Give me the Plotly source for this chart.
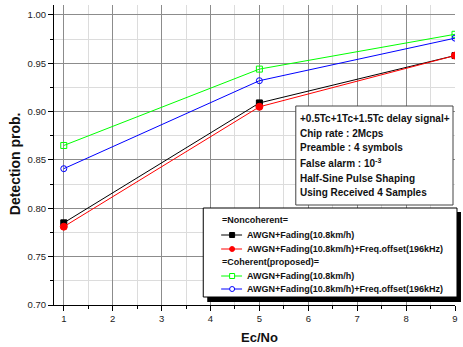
import plotly.graph_objects as go

# ---- data ----
ec_no = [1, 5, 9]
nc_awgn = [0.785, 0.909, 0.958]
nc_freq = [0.781, 0.905, 0.958]
co_awgn = [0.865, 0.944, 0.980]
co_freq = [0.841, 0.932, 0.976]

series_names = ["AWGN+Fading(10.8km/h)", "AWGN+Fading(10.8km/h)+Freq.offset(196kHz)",
                "AWGN+Fading(10.8km/h)", "AWGN+Fading(10.8km/h)+Freq.offset(196kHz)"]
group_titles = ["=Noncoherent=", "=Coherent(proposed)="]
info_lines = ["+0.5Tc+1Tc+1.5Tc delay signal+", "Chip rate : 2Mcps", "Preamble : 4 symbols",
              "False alarm : 10<sup>-3</sup>", "Half-Sine Pulse Shaping", "Using Received 4 Samples"]

FONT = "Arial, Liberation Sans, sans-serif"
colors = ["#000000", "#ff0000", "#00ff00", "#0000ff"]
symbols = ["square", "circle", "square-open", "circle-open"]
sizes = [6, 7, 6, 6]
values = [nc_awgn, nc_freq, co_awgn, co_freq]

fig = go.Figure()
for v, c, s, sz, n in zip(values, colors, symbols, sizes, series_names):
    fig.add_trace(go.Scatter(x=ec_no, y=v, mode="lines+markers", name=n,
                             line=dict(color=c, width=1),
                             marker=dict(symbol=s, size=sz, color=c, line=dict(color=c, width=1)),
                             showlegend=False))

# pixel helpers for layout decoration
L, R, T, B = 54, 457, 5, 305
W, H = R - L, B - T
def px(x):
    return (x - L) / W
def py(y):
    return (B - y) / H

shapes = []
annotations = []

# info text box
shapes.append(dict(type="rect", xref="paper", yref="paper", x0=px(297), x1=px(455), y0=py(205), y1=py(106),
                   line=dict(color="#444444", width=1), fillcolor="white", layer="above"))
info_y = [118, 133, 147.5, 163, 178, 192.7]
for t, yy in zip(info_lines, info_y):
    annotations.append(dict(text=t, xref="paper", yref="paper", x=px(299), y=py(yy), xanchor="left",
                            yanchor="middle", showarrow=False,
                            font=dict(family=FONT, size=10, color="#111111", weight="bold")))

# legend box with shadow
shapes.append(dict(type="rect", xref="paper", yref="paper", x0=px(208), x1=px(463), y0=py(302), y1=py(212),
                   line=dict(width=0), fillcolor="black", layer="above"))
shapes.append(dict(type="rect", xref="paper", yref="paper", x0=px(204), x1=px(459), y0=py(297), y1=py(208),
                   line=dict(color="black", width=1), fillcolor="white", layer="above"))
rows = [220, 235, 249, 262, 276, 289]
annotations.append(dict(text=group_titles[0], xref="paper", yref="paper", x=px(221), y=py(rows[0]),
                        xanchor="left", yanchor="middle", showarrow=False,
                        font=dict(family=FONT, size=9, color="#111111", weight="bold")))
annotations.append(dict(text=group_titles[1], xref="paper", yref="paper", x=px(221), y=py(rows[3]),
                        xanchor="left", yanchor="middle", showarrow=False,
                        font=dict(family=FONT, size=9, color="#111111", weight="bold")))
entry_rows = [rows[1], rows[2], rows[4], rows[5]]
for yy, c, s, n in zip(entry_rows, colors, symbols, series_names):
    shapes.append(dict(type="line", xref="paper", yref="paper", x0=px(222), x1=px(243), y0=py(yy), y1=py(yy),
                       line=dict(color=c, width=1), layer="above"))
    ms = 2.5
    shp = "rect" if "square" in s else "circle"
    fill = c if "open" not in s else "white"
    shapes.append(dict(type=shp, xref="paper", yref="paper", x0=px(233 - ms), x1=px(233 + ms),
                       y0=py(yy + ms), y1=py(yy - ms), line=dict(color=c, width=1), fillcolor=fill,
                       layer="above"))
    annotations.append(dict(text=n, xref="paper", yref="paper", x=px(246), y=py(yy), xanchor="left",
                            yanchor="middle", showarrow=False,
                            font=dict(family=FONT, size=9, color="#111111", weight="bold")))

# axis titles
annotations.append(dict(text="Ec/No", xref="paper", yref="paper", x=px(261), y=py(337), xanchor="center",
                        yanchor="middle", showarrow=False,
                        font=dict(family=FONT, size=13, color="#111111", weight="bold")))
annotations.append(dict(text="Detection prob.", xref="paper", yref="paper", x=px(15), y=py(164),
                        xanchor="center", yanchor="middle", showarrow=False, textangle=-90,
                        font=dict(family=FONT, size=14, color="#111111", weight="bold")))

axis_common = dict(showline=True, linecolor="black", linewidth=1, ticks="outside", tickcolor="black",
                   ticklen=5, gridcolor="#8c8c8c", gridwidth=1, zeroline=False,
                   tickfont=dict(family=FONT, size=9.5, color="#222222"))
fig.update_layout(
    width=463, height=347,
    margin=dict(l=L, r=463 - R, t=T, b=347 - B),
    paper_bgcolor="white", plot_bgcolor="white",
    xaxis=dict(range=[0.8, 9.0], dtick=1, tick0=1,
               minor=dict(dtick=0.5, tick0=1, showgrid=True, gridcolor="#dcdcdc", ticks="outside",
                          ticklen=3, tickcolor="black"),
               **axis_common),
    yaxis=dict(range=[0.70, 1.0103], dtick=0.05, tick0=0.70, tickformat=".2f",
               minor=dict(dtick=0.025, tick0=0.70, showgrid=True, gridcolor="#dcdcdc", ticks="outside",
                          ticklen=3, tickcolor="black"),
               **axis_common),
    shapes=shapes, annotations=annotations, showlegend=False,
)
fig.write_html("out.html", config={"displayModeBar": False},
               post_script="document.body.style.margin='0';document.body.style.overflow='hidden';")
